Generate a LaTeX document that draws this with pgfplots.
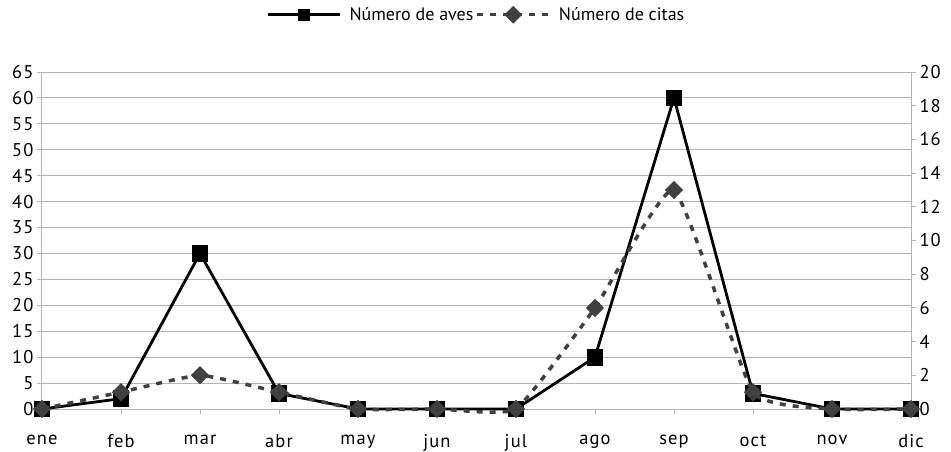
\documentclass[border=0pt]{standalone}
\usepackage{pgfplots}
\pgfplotsset{compat=1.18}
\usepackage{fontspec}
\setmainfont{PT Sans}
\newfontfamily\tickfont[LetterSpace=6]{PT Sans}
\definecolor{gridgray}{HTML}{B4B4B4}
\definecolor{citascol}{HTML}{404040}

\pgfplotsset{
  common/.style={
    scale only axis, width=869pt, height=337pt,
    xmin=0, xmax=11,
    axis line style={gridgray, line width=1pt},
    tick style={gridgray, line width=1pt},
    tick align=outside, major tick length=5pt,
    ticklabel style={font=\tickfont\fontsize{18.5}{18.5}\selectfont, text=black},
    /pgf/number format/assume math mode=true,
    clip=false,
  },
  legline/.style={legend image code/.code={
    \draw[mark repeat=2, mark phase=2, ##1, mark size=4.5pt] plot coordinates {(0pt,0pt) (36pt,0pt) (72pt,0pt)};}},
}

\begin{document}
\begin{tikzpicture}[x=1pt,y=1pt]
\path[use as bounding box] (-42,-42) rectangle (909,409);
\begin{axis}[
  common,
  ymin=0, ymax=65, ytick={0,5,...,65},
  xtick={0,...,11},
  xticklabels={ene,feb,mar,abr,may,jun,jul,ago,sep,oct,nov,dic},
  xticklabel style={yshift=-17pt},
  axis y line*=left, axis x line*=bottom,
  ymajorgrids, grid style={gridgray, line width=1pt},
  legend columns=2,
  legend style={draw=none, fill=none, at={(0.5,1.17)}, anchor=center,
    font=\fontsize{18}{18}\selectfont,
    /tikz/every odd column/.append style={column sep=6pt}},
  legend cell align=left,
  legline,
]
\addplot[black, line width=2.8pt, mark=square*, mark size=7pt,
  mark options={solid, fill=black}] coordinates {
  (0,0) (1,2) (2,30) (3,3) (4,0) (5,0) (6,0) (7,10) (8,60) (9,3) (10,0) (11,0)
};
\addlegendentry{Número de aves}
\addlegendimage{citascol, line width=3.5pt, dash pattern=on 6pt off 7pt,
  mark=square*, mark options={solid, rotate=45, fill=citascol}}
\addlegendentry{Número de citas}
\end{axis}
\begin{axis}[
  common,
  ymin=0, ymax=20, ytick={0,2,...,20},
  axis x line=none, axis y line*=right,
]
\addplot[citascol, line width=3.5pt, dash pattern=on 6pt off 7pt, smooth, tension=0.25,
  mark=square*, mark size=4.7pt, mark options={solid, rotate=45, fill=citascol}]
  coordinates {
  (0,0) (1,1) (2,2) (3,1) (4,0) (5,0) (6,0) (7,6) (8,13) (9,1) (10,0) (11,0)
};
\end{axis}
\end{tikzpicture}
\end{document}
